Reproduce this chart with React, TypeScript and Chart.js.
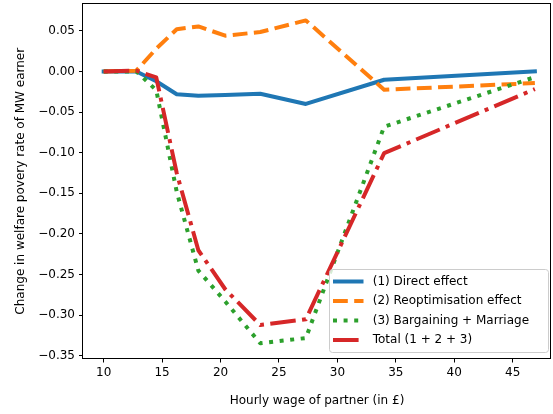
import React, { useEffect, useRef } from "react";
import { Chart, registerables } from "chart.js";

Chart.register(...registerables);

// ---- Data ----
const wages = [10, 12.8, 14.5, 16.25, 18.1, 20.4, 23.4, 27.3, 34.0, 46.9];
const directEffect = [0, 0, -0.012, -0.028, -0.030, -0.029, -0.0275, -0.040, -0.0102, 0];
const reoptEffect = [0, 0.001, 0.028, 0.052, 0.0554, 0.044, 0.0485, 0.0628, -0.0225, -0.0143];
const bargainingEffect = [0, 0, -0.023, -0.148, -0.245, -0.283, -0.3345, -0.328, -0.068, -0.007];
const totalEffect = [0, 0.001, -0.0074, -0.125, -0.22, -0.268, -0.312, -0.305, -0.1005, -0.0217];

const seriesLabels = [
  "(1) Direct effect",
  "(2) Reoptimisation effect",
  "(3) Bargaining + Marriage",
  "Total (1 + 2 + 3)",
];
const xTicks = [10, 15, 20, 25, 30, 35, 40, 45];
const yTicks = [-0.35, -0.3, -0.25, -0.2, -0.15, -0.1, -0.05, 0.0, 0.05];

const xTitle = "Hourly wage of partner (in £)";
const yTitle = "Change in welfare povery rate of MW earner";

const FONT = "DejaVu Sans";

function toPoints(ys: number[]) {
  return wages.map((x, i) => ({ x, y: ys[i] }));
}

const frameLegendPlugin = {
  id: "frameLegend",
  afterDatasetsDraw(chart: any) {
    const { ctx, chartArea: a } = chart;
    ctx.save();
    // spines
    ctx.strokeStyle = "#000";
    ctx.lineWidth = 1;
    ctx.setLineDash([]);
    const l = Math.round(a.left) - 0.5;
    const t = Math.round(a.top) - 0.5;
    const r = Math.round(a.right) - 0.5;
    const b = Math.round(a.bottom) - 0.5;
    ctx.strokeRect(l, t, r - l, b - t);

    // legend
    const lx = a.right - 221.5;
    const ly = a.bottom - 89;
    const lw = 219;
    const lh = 83;
    ctx.beginPath();
    (ctx as any).roundRect(lx, ly, lw, lh, 3);
    ctx.fillStyle = "rgba(255,255,255,0.8)";
    ctx.fill();
    ctx.strokeStyle = "#cccccc";
    ctx.lineWidth = 1;
    ctx.stroke();

    const rows = [12, 31.5, 51, 70.5];
    ctx.font = `12px "${FONT}"`;
    ctx.textBaseline = "middle";
    ctx.textAlign = "left";
    chart.data.datasets.forEach((ds: any, i: number) => {
      const y = ly + rows[i];
      ctx.beginPath();
      ctx.strokeStyle = ds.borderColor;
      ctx.lineWidth = ds.borderWidth;
      ctx.setLineDash(ds.borderDash || []);
      ctx.lineCap = ds.borderCapStyle || "butt";
      const sq = ds.borderCapStyle === "square" ? 2 : 0;
      ctx.moveTo(lx + 3.5 + sq, y);
      ctx.lineTo(lx + 34 - sq, y);
      ctx.stroke();
      ctx.setLineDash([]);
      ctx.fillStyle = "#000";
      ctx.fillText(ds.label, lx + 43.2, y);
    });
    ctx.restore();
  },
};

function fmtY(v: number) {
  const s = Number(v).toFixed(2);
  return s.startsWith("-") ? "\u2212" + s.slice(1) : s;
}

export default function App() {
  const canvasRef = useRef<HTMLCanvasElement | null>(null);

  useEffect(() => {
    document.body.style.margin = "0";
    const canvas = canvasRef.current;
    if (!canvas) return;
    Chart.defaults.font.family = FONT;
    Chart.defaults.font.size = 12;
    Chart.defaults.color = "#000";

    const chart = new Chart(canvas, {
      type: "line",
      data: {
        datasets: [
          {
            label: seriesLabels[0],
            data: toPoints(directEffect),
            borderColor: "#1f77b4",
            borderWidth: 4,
            borderCapStyle: "square",
            borderJoinStyle: "round",
            pointRadius: 0,
            fill: false,
            tension: 0,
            order: 3,
          },
          {
            label: seriesLabels[1],
            data: toPoints(reoptEffect),
            borderColor: "#ff7f0e",
            borderWidth: 4,
            borderDash: [14.8, 6.4],
            borderCapStyle: "butt",
            borderJoinStyle: "round",
            pointRadius: 0,
            fill: false,
            tension: 0,
            order: 2,
          },
          {
            label: seriesLabels[2],
            data: toPoints(bargainingEffect),
            borderColor: "#2ca02c",
            borderWidth: 4,
            borderDash: [4, 6.6],
            borderCapStyle: "butt",
            borderJoinStyle: "round",
            pointRadius: 0,
            fill: false,
            tension: 0,
            order: 1,
          },
          {
            label: seriesLabels[3],
            data: toPoints(totalEffect),
            borderColor: "#d62728",
            borderWidth: 4,
            borderDash: [25.6, 6.4, 4, 6.4],
            borderCapStyle: "butt",
            borderJoinStyle: "round",
            pointRadius: 0,
            fill: false,
            tension: 0,
            order: 0,
          },
        ] as any,
      },
      options: {
        animation: false,
        responsive: false,
        devicePixelRatio: 1,
        layout: { padding: { left: 0, right: 2, top: 4, bottom: 0 } },
        plugins: {
          legend: { display: false },
          tooltip: { enabled: false },
          title: { display: false },
        },
        scales: {
          x: {
            type: "linear",
            min: 8.23,
            max: 48.28,
            afterFit: (s: any) => {
              s.height = 55.5;
              s.paddingLeft = 0;
              s.paddingRight = 0;
            },
            afterBuildTicks: (s: any) => {
              s.ticks = xTicks.map((v) => ({ value: v }));
            },
            ticks: {
              autoSkip: false,
              maxRotation: 0,
              padding: 3,
              color: "#000",
              font: { family: FONT, size: 12 },
              callback: (v: any) => String(v),
            },
            grid: {
              display: true,
              drawOnChartArea: false,
              drawTicks: true,
              tickLength: 4,
              tickColor: "#000",
              tickWidth: 1,
            },
            border: { display: false },
            title: {
              display: true,
              text: xTitle,
              color: "#000",
              font: { family: FONT, size: 12 },
              padding: { top: 0, bottom: 6 },
            },
          },
          y: {
            type: "linear",
            min: -0.3532,
            max: 0.083,
            afterFit: (s: any) => {
              s.width = 83;
              s.paddingTop = 0;
              s.paddingBottom = 0;
            },
            afterBuildTicks: (s: any) => {
              s.ticks = yTicks.map((v) => ({ value: v }));
            },
            ticks: {
              autoSkip: false,
              padding: 4,
              color: "#000",
              font: { family: FONT, size: 12 },
              callback: (v: any) => fmtY(v),
            },
            grid: {
              display: true,
              drawOnChartArea: false,
              drawTicks: true,
              tickLength: 4,
              tickColor: "#000",
              tickWidth: 1,
            },
            border: { display: false },
            title: {
              display: true,
              text: yTitle,
              color: "#000",
              font: { family: FONT, size: 12 },
              padding: { top: 14, bottom: 0 },
            },
          },
        },
      } as any,
      plugins: [frameLegendPlugin],
    });

    return () => {
      chart.destroy();
    };
  }, []);

  return (
    <div style={{ position: "absolute", left: 0, top: 0, width: 553, height: 414 }}>
      <canvas ref={canvasRef} width={553} height={414} />
    </div>
  );
}
